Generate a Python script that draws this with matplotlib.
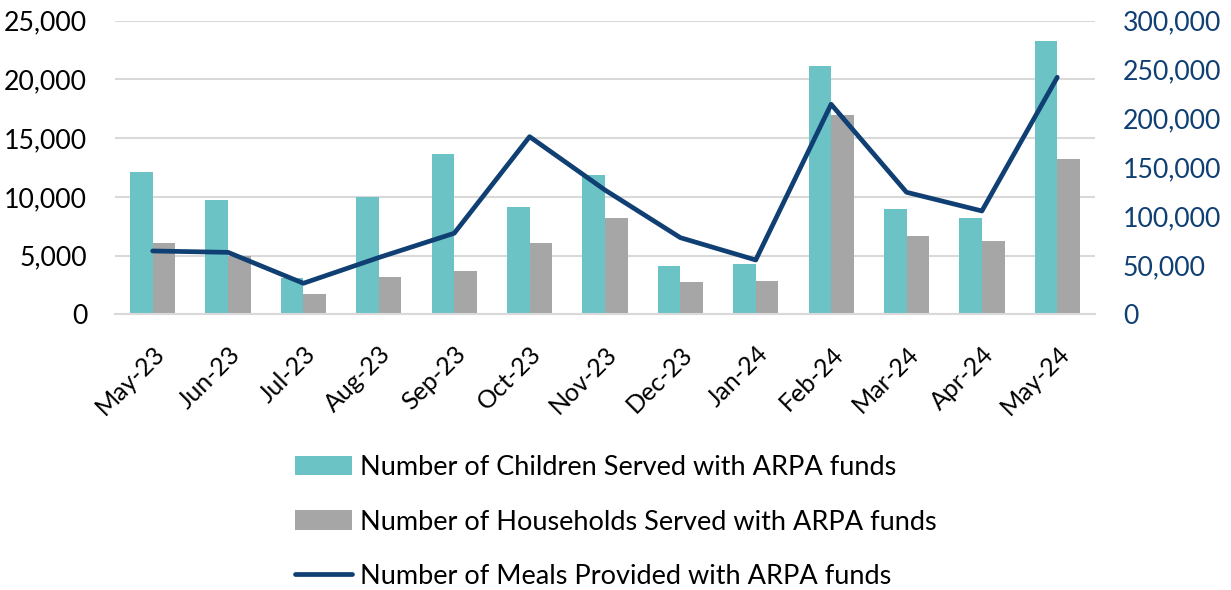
import matplotlib
matplotlib.use("Agg")
import matplotlib.pyplot as plt
import matplotlib.transforms as mtrans
import numpy as np
from matplotlib.ticker import FuncFormatter

months = ["May-23", "Jun-23", "Jul-23", "Aug-23", "Sep-23", "Oct-23", "Nov-23",
          "Dec-23", "Jan-24", "Feb-24", "Mar-24", "Apr-24", "May-24"]
children = [12150, 9750, 3050, 10000, 13680, 9100, 11850, 4090, 4300, 21150, 8950, 8180, 23280]
households = [6100, 5000, 1700, 3200, 3700, 6050, 8230, 2720, 2840, 16980, 6640, 6220, 13200]
meals = [64700, 63300, 31700, 58000, 82800, 181500, 127000, 78300, 55500, 214600, 124700, 105600, 242200]

lab_children = "Number of Children Served with ARPA funds"
lab_households = "Number of Households Served with ARPA funds"
lab_meals = "Number of Meals Provided with ARPA funds"

teal = "#6BC3C6"
gray = "#A6A6A6"
navy = "#0F3F73"

plt.rcParams['font.family'] = ['Lato', 'DejaVu Sans']
fs_y = 19.2
fs_x = 18
fs_leg = 19.5

fig = plt.figure(figsize=(12.31, 5.90), dpi=100)
ax = fig.add_axes([0.0934, 0.4673, 0.7961, 0.4976])
x = np.arange(len(months))
w = 0.3
b1 = ax.bar(x - w/2, children, w, color=teal, label=lab_children, zorder=2)
b2 = ax.bar(x + w/2, households, w, color=gray, label=lab_households, zorder=2)
ax.set_ylim(0, 25000)
ax.set_yticks(np.arange(0, 25001, 5000))
ax.yaxis.set_major_formatter(FuncFormatter(lambda v, p: f"{int(v):,}"))
ax.set_xlim(-0.5, len(months) - 0.5)
ax.set_xticks(x)
ax.set_xticklabels(months, rotation=45, ha='right', rotation_mode='anchor', fontsize=fs_x)
shift = mtrans.ScaledTranslation(-7/100, 0, fig.dpi_scale_trans)
for lab in ax.get_xticklabels():
    lab.set_transform(lab.get_transform() + shift)
ax.grid(axis='y', color='#D9D9D9', linewidth=1.5, zorder=0)
ax.set_axisbelow(True)
for s in ['top', 'right', 'left']:
    ax.spines[s].set_visible(False)
ax.spines['bottom'].set_color('#D9D9D9')
ax.spines['bottom'].set_linewidth(1.5)
ax.tick_params(axis='both', length=0)
ax.tick_params(axis='y', pad=20, labelsize=fs_y)
ax.tick_params(axis='x', pad=20)

ax2 = ax.twinx()
l1, = ax2.plot(x, meals, color=navy, linewidth=3.4, label=lab_meals, solid_capstyle='round', zorder=3)
ax2.set_ylim(0, 300000)
ax2.set_yticks(np.arange(0, 300001, 50000))
ax2.yaxis.set_major_formatter(FuncFormatter(lambda v, p: f"{int(v):,}"))
ax2.tick_params(axis='y', length=0, labelsize=fs_y, labelcolor=navy, pad=20)
for s in ax2.spines.values():
    s.set_visible(False)

fig.legend([b1, b2, l1], [lab_children, lab_households, lab_meals],
           loc='upper left', bbox_to_anchor=(295/1231, 1 - 455/590),
           frameon=False, fontsize=fs_leg, handlelength=2.1, handleheight=0.75,
           handletextpad=0.3, labelspacing=1.09, borderpad=0, borderaxespad=0)

fig.savefig("out.png", dpi=100)
